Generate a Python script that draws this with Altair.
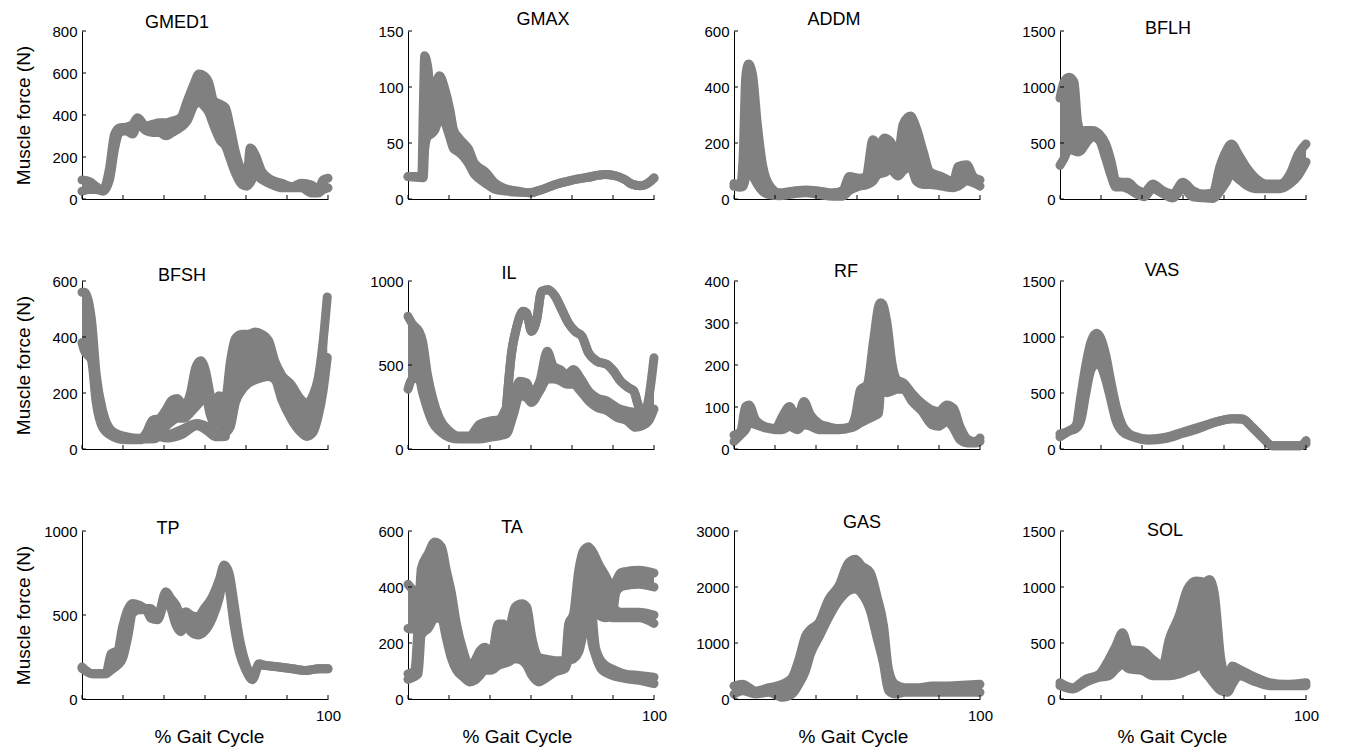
import altair as alt
import pandas as pd

FONT = "Liberation Sans"
GRAY = "#808080"

# ---------------- data: x = % gait cycle, HI / LO = upper / lower trace of each grey band (N)
GMED1_X = [0, 3.1, 5.8, 8.5, 11.2, 13.2, 15.2, 17.9, 20.6, 22.6, 26.0, 28.7, 31.4, 34.1, 36.7, 40.1, 42.8, 45.5, 47.5, 49.5,
           51.5, 53.6, 56.3, 58.3, 60.3, 62.3, 65.0, 67.0, 68.4, 70.4, 73.1, 77.1, 81.2, 85.2, 89.2, 93.3, 96.0, 98.0, 100]
GMED1_HI = [91, 83, 59, 43, 147, 307, 339, 342, 355, 387, 347, 355, 363, 363, 371, 387, 467, 547, 595, 587,
            555, 467, 451, 435, 339, 227, 131, 99, 243, 211, 131, 91, 75, 59, 75, 67, 43, 91, 99]
GMED1_LO = [37, 45, 45, 37, 93, 237, 317, 325, 309, 357, 325, 317, 317, 301, 317, 341, 373, 445, 461, 445,
            413, 349, 277, 253, 189, 125, 69, 61, 77, 117, 93, 69, 53, 53, 53, 29, 29, 45, 53]

GMAX_X = [0, 5.6, 6.2, 6.8, 8.0, 9.5, 11.0, 12.8, 15.0, 17.0, 18.5, 20.5, 22.5, 24.5, 27.0, 29.0, 31.5, 35.0, 40.0, 45.0,
          49.5, 54.5, 59.6, 66.4, 73.2, 80.0, 84.1, 88.2, 90.9, 94.3, 97.0, 100]
GMAX_HI = [20, 20, 80, 128, 118, 92, 100, 110, 98, 80, 62, 55, 50, 45, 32, 28, 24, 15, 9, 7,
           5.5, 8.5, 12.8, 16.7, 19.4, 21.8, 20.9, 17.3, 13.4, 11.9, 13.4, 18.8]
GMAX_LO = [20, 19, 19, 45, 56, 58, 62, 72, 68, 55, 45, 42, 38, 32, 22, 18, 14, 9, 7, 6,
           5.5, 8.5, 12.8, 16.7, 19.4, 21.8, 20.9, 17.3, 13.4, 11.9, 13.4, 18.8]

ADDM_X = [0, 2.7, 3.7, 4.8, 5.9, 7.5, 9.5, 11.6, 14.3, 18.4, 23.8, 29.3, 34.7, 40.1, 44.2, 46.9, 51.0, 53.7, 56.5, 58.5,
          61.2, 63.5, 66.7, 68.7, 71.7, 74.1, 76.9, 79.6, 84.4, 89.1, 91.2, 94.6, 97.3, 100]
ADDM_HI = [55, 50, 150, 440, 482, 446, 266, 122, 50, 22, 28, 32, 28, 22, 30, 80, 74, 80, 212, 182,
           218, 206, 158, 266, 296, 254, 170, 98, 80, 62, 116, 122, 80, 68]
ADDM_LO = [45, 42, 45, 80, 135, 88, 52, 28, 16, 12, 18, 22, 16, 10, 10, 30, 46, 50, 64, 88,
           94, 106, 82, 100, 118, 64, 52, 52, 46, 40, 46, 64, 58, 46]

BFLH_X = [0, 1.6, 3.7, 5.7, 7.1, 8.4, 10.5, 13.2, 15.9, 18.6, 20.7, 22.7, 25.4, 27.5, 30.9, 34.3, 37.7, 41.8, 45.9, 49.9,
          54.0, 58.1, 62.2, 64.9, 67.6, 69.7, 72.4, 75.8, 79.9, 83.9, 89.4, 93.5, 96.9, 100]
BFLH_HI = [900, 1044, 1088, 1044, 700, 610, 611, 611, 581, 492, 343, 164, 149, 149, 89, 60, 134, 75, 45, 149,
           75, 45, 55, 283, 432, 492, 403, 283, 179, 134, 134, 224, 403, 492]
BFLH_LO = [300, 361, 450, 430, 420, 430, 495, 555, 525, 361, 212, 107, 107, 92, 48, 20, 92, 48, 10, 92,
           20, 10, 5, 63, 152, 227, 182, 122, 92, 92, 92, 137, 212, 331]

BFSH_A_X = [0, 1.0, 3.8, 5.8, 8.5, 12.5, 17.9, 23.3, 26.0, 28.7, 31.4, 34.1, 36.7, 38.8, 41.5, 44.1, 46.2, 48.2, 50.2, 52.2,
            54.0, 55.6, 58.3, 60.3, 62.3, 65.0, 67.7, 70.4, 73.1, 75.8, 78.5, 81.2, 85.2, 88.6, 91.3, 93.9, 96.0, 98.0, 99.7]
BFSH_A_HI = [560, 560, 466, 264, 133, 62, 44, 38, 56, 103, 109, 140, 175, 180, 150, 200, 290, 315, 280, 190,
             130, 190, 180, 311, 394, 410, 410, 418, 410, 388, 311, 264, 228, 181, 163, 192, 252, 383, 543]
BFSH_A_LO = [380, 350, 318, 164, 75, 45, 33, 33, 36, 36, 45, 80, 100, 110, 110, 130, 150, 170, 190, 120,
             90, 110, 60, 80, 164, 210, 235, 247, 255, 259, 247, 176, 105, 63, 45, 59, 116, 208, 327]
BFSH_B_X = [31.4, 34.1, 40.1, 46.8, 50.9, 54.2, 58.3]
BFSH_B_HI = [50, 50, 68, 91, 80, 62, 62]
BFSH_B_LO = [45, 39, 50, 83, 65, 44, 45]

IL_A_X = [0, 2.0, 4.5, 5.9, 7.9, 10.0, 12.7, 16.8, 20.9, 25.0, 29.1, 33.2, 37.2, 40.0, 42.7, 45.4, 48.2, 50.2, 53.6, 56.6,
          59.1, 61.8, 64.5, 67.3, 70.0, 73.4, 76.8, 80.9, 85.0, 89.1, 92.5, 95.2, 97.9, 100]
IL_A_HI = [790, 740, 700, 641, 443, 305, 186, 107, 77, 77, 147, 166, 176, 246, 305, 404, 394, 335, 404, 582,
           493, 473, 444, 473, 424, 345, 305, 285, 246, 226, 216, 186, 305, 543]
IL_A_LO = [356, 420, 420, 337, 238, 158, 109, 69, 59, 59, 59, 69, 79, 89, 198, 317, 307, 277, 347, 416,
           416, 406, 386, 386, 347, 287, 248, 228, 188, 168, 129, 139, 168, 238]
IL_B_X = [40.0, 42.0, 44.1, 46.8, 48.2, 50.2, 52.3, 54.3, 57.0, 59.8, 62.5, 65.2, 67.9, 70.7, 73.4, 76.8, 80.9, 83.6,
          86.4, 89.8, 91.8, 93.5, 94.8]
IL_B_V = [246, 562, 721, 820, 810, 701, 770, 939, 948, 909, 830, 750, 701, 671, 572, 523, 503, 463,
          404, 364, 345, 265, 220]

RF_X = [0, 2.7, 4.7, 6.1, 8.8, 12.8, 16.9, 19.6, 22.6, 25.7, 28.4, 31.1, 34.5, 38.5, 42.6, 47.3, 49.3, 51.4, 54.1, 56.8,
        58.8, 59.6, 60.4, 62.2, 64.2, 66.2, 68.9, 72.3, 76.4, 80.4, 83.1, 86.5, 89.2, 91.9, 95.3, 98.0, 100]
RF_HI = [33, 41, 101, 105, 69, 53, 49, 77, 101, 69, 113, 81, 61, 53, 49, 53, 77, 141, 153, 261,
         340, 348, 345, 300, 205, 165, 157, 133, 109, 93, 89, 105, 97, 53, 22, 18, 26]
RF_LO = [18, 34, 46, 62, 58, 50, 46, 46, 54, 46, 58, 54, 46, 46, 46, 50, 54, 62, 70, 78,
         85, 138, 138, 134, 138, 142, 142, 114, 90, 58, 54, 66, 50, 22, 14, 14, 18]

VAS_X = [0, 3.8, 6.5, 8.5, 10.5, 12.6, 14.9, 16.6, 18.6, 20.7, 22.7, 25.4, 29.5, 36.2, 43.0, 49.7, 56.5, 63.2, 70.0,
         74.1, 78.1, 82.2, 86.2, 90.3, 94.3, 97.7, 100]
VAS_HI = [135, 165, 210, 479, 749, 958, 1033, 988, 838, 599, 389, 210, 120, 90, 105, 150, 195, 240, 270,
          270, 195, 105, 30, 28, 30, 30, 75]
VAS_LO = [108, 160, 183, 257, 497, 707, 760, 737, 617, 437, 257, 153, 108, 78, 93, 138, 183, 240, 270,
          265, 195, 105, 30, 28, 30, 30, 48]

TP_X = [0, 4.3, 9.7, 11.8, 14.5, 16.5, 18.5, 20.6, 23.3, 26.0, 28.0, 30.7, 34.1, 36.1, 38.2, 40.2, 42.2, 44.2, 47.0, 49.7,
        53.0, 55.8, 57.8, 59.8, 61.8, 63.9, 66.6, 69.3, 72.0, 74.7, 80.1, 85.5, 90.9, 96.3, 100]
TP_HI = [190, 150, 150, 269, 289, 429, 529, 569, 559, 539, 539, 489, 639, 599, 559, 499, 519, 499, 489, 539,
         609, 709, 798, 749, 569, 369, 210, 130, 210, 200, 190, 180, 170, 180, 180]
TP_LO = [182, 150, 150, 172, 202, 242, 361, 511, 531, 531, 481, 471, 591, 541, 441, 401, 441, 401, 381, 401,
         481, 601, 741, 661, 441, 281, 172, 115, 202, 200, 190, 180, 170, 180, 180]

TA_A_X = [0, 2.7, 4.1, 5.4, 8.2, 10.9, 13.6, 15.6, 17.7, 19.7, 22.4, 25.2, 27.2, 29.3, 31.3, 34.0, 36.7, 38.8, 40.8, 43.5,
          46.3, 48.3, 50.3, 53.1, 55.8, 59.9, 63.9, 65.3, 67.3, 69.4, 71.4, 73.4, 74.8, 76.2, 78.9, 83.0, 88.4, 93.9, 100]
TA_A_HI = [90, 100, 260, 465, 519, 561, 543, 459, 376, 268, 173, 113, 137, 173, 185, 161, 268, 268, 245, 328,
           340, 328, 221, 149, 143, 137, 137, 268, 304, 459, 531, 543, 320, 185, 131, 107, 89, 84, 78]
TA_A_LO = [70, 80, 90, 228, 252, 288, 288, 216, 144, 103, 79, 61, 67, 85, 103, 103, 120, 126, 132, 144,
           138, 120, 85, 61, 73, 97, 109, 138, 144, 168, 240, 300, 200, 156, 103, 85, 73, 67, 55]
TA_B_X = [0, 2.0, 4.1, 5.4]
TA_B_HI = [410, 390, 380, 420]
TA_B_LO = [252, 250, 280, 300]
TA_C_X = [73.4, 74.8, 77.6, 80.3, 83.0, 84.5, 86.4, 88.4, 93.9, 100]
TA_C_HI = [543, 530, 480, 440, 400, 420, 450, 455, 460, 450]
TA_C_LO = [450, 330, 300, 290, 300, 380, 400, 405, 410, 400]
TA_D_X = [83.0, 86.4, 93.9, 100]
TA_D_HI = [330, 310, 310, 300]
TA_D_LO = [290, 290, 290, 270]

GAS_X = [0, 3.4, 8.8, 14.2, 19.6, 23.6, 26.4, 29.1, 31.1, 34.5, 38.5, 42.6, 46.6, 49.3, 52.0, 55.4, 58.1, 60.8, 62.8,
         65.5, 69.6, 75.0, 80.4, 85.8, 92.6, 100]
GAS_HI = [232, 262, 143, 202, 262, 381, 708, 1125, 1244, 1363, 1780, 2018, 2434, 2494, 2375, 2256, 1839, 1304, 530,
          262, 202, 202, 232, 232, 244, 262]
GAS_LO = [89, 149, 89, 119, 30, 89, 268, 506, 804, 1101, 1458, 1756, 1934, 1964, 1875, 1577, 1101, 625, 149,
          89, 119, 119, 119, 119, 119, 119]

SOL_X = [0, 5.0, 10.4, 15.9, 19.9, 22.7, 25.4, 28.1, 33.5, 37.6, 41.7, 44.4, 48.4, 51.8, 55.2, 57.2, 58.6, 60.7, 62.7,
         65.4, 68.1, 70.1, 72.9, 78.3, 85.1, 91.9, 100]
SOL_HI = [146, 101, 176, 220, 354, 473, 592, 443, 429, 354, 295, 533, 741, 979, 1054, 1050, 1039, 1068, 949,
          354, 176, 295, 265, 205, 146, 131, 146]
SOL_LO = [119, 89, 149, 193, 208, 268, 312, 268, 253, 208, 208, 208, 223, 253, 283, 327, 253, 193, 134,
          74, 60, 134, 208, 164, 119, 119, 119]

PANELS = [
    ("GMED1", 800, [0, 200, 400, 600, 800], [(GMED1_X, GMED1_HI, GMED1_LO)]),
    ("GMAX", 150, [0, 50, 100, 150], [(GMAX_X, GMAX_HI, GMAX_LO)]),
    ("ADDM", 600, [0, 200, 400, 600], [(ADDM_X, ADDM_HI, ADDM_LO)]),
    ("BFLH", 1500, [0, 500, 1000, 1500], [(BFLH_X, BFLH_HI, BFLH_LO)]),
    ("BFSH", 600, [0, 200, 400, 600], [(BFSH_A_X, BFSH_A_HI, BFSH_A_LO), (BFSH_B_X, BFSH_B_HI, BFSH_B_LO)]),
    ("IL", 1000, [0, 500, 1000], [(IL_A_X, IL_A_HI, IL_A_LO), (IL_B_X, IL_B_V, IL_B_V)]),
    ("RF", 400, [0, 100, 200, 300, 400], [(RF_X, RF_HI, RF_LO)]),
    ("VAS", 1500, [0, 500, 1000, 1500], [(VAS_X, VAS_HI, VAS_LO)]),
    ("TP", 1000, [0, 500, 1000], [(TP_X, TP_HI, TP_LO)]),
    ("TA", 600, [0, 200, 400, 600], [(TA_A_X, TA_A_HI, TA_A_LO), (TA_B_X, TA_B_HI, TA_B_LO),
                                     (TA_C_X, TA_C_HI, TA_C_LO), (TA_D_X, TA_D_HI, TA_D_LO)]),
    ("GAS", 3000, [0, 1000, 2000, 3000], [(GAS_X, GAS_HI, GAS_LO)]),
    ("SOL", 1500, [0, 500, 1000, 1500], [(SOL_X, SOL_HI, SOL_LO)]),
]

X_TICKS = [0, 100 / 6, 200 / 6, 50, 400 / 6, 500 / 6, 100]

# ---------------- layout (pixels)
W, H = 246, 168
TITLE_DX = [-28, 12, -23, -15, -23, -22, -11, -21, -37, -19, 5, -18]
TITLE_DY = [16.5, 13.5, 13.5, 23, 19.5, 17.5, 15.5, 14.5, 23, 21.5, 16.5, 24.5]
XTITLE_X = [127, 109, 119, 112]


def build_panel(idx, name, ymax, yticks, strands):
    row, col = divmod(idx, 4)
    recs = []
    for s, (xs, hs, ls) in enumerate(strands):
        for x, h, l in zip(xs, hs, ls):
            recs.append({"x": x, "hi": h, "lo": l, "s": s})
    df = pd.DataFrame(recs)

    xscale = alt.Scale(domain=[0, 100], nice=False, zero=False)
    yscale = alt.Scale(domain=[0, ymax], nice=False)

    if row == 2:
        xaxis = alt.Axis(values=[100], format="d", labelFontSize=15, labelPadding=9, labelFlush=False,
                         ticks=False, grid=False, titleFontSize=19, titleFontWeight="normal",
                         titlePadding=4, titleX=XTITLE_X[col])
        xtitle = "% Gait Cycle"
    else:
        xaxis = alt.Axis(values=[], labels=False, ticks=False, grid=False)
        xtitle = None
    yaxis = alt.Axis(values=yticks, format="d", labelFontSize=15, labelPadding=5, ticks=False, grid=False,
                     minExtent=40, maxExtent=40, titleFontSize=19, titleFontWeight="normal", titlePadding=9)
    ytitle = "Muscle force (N)" if col == 0 else None

    X = alt.X("x:Q", scale=xscale, axis=xaxis, title=xtitle)
    Yhi = alt.Y("hi:Q", scale=yscale, axis=yaxis, title=ytitle)
    Ylo = alt.Y("lo:Q", scale=yscale, axis=yaxis, title=ytitle)

    base = alt.Chart(df)
    band = base.mark_area(color=GRAY, interpolate="monotone").encode(
        x=X, y=Yhi, y2=alt.Y2("lo:Q"), detail="s:N")
    line_kw = dict(color=GRAY, strokeWidth=9, strokeCap="round", strokeJoin="round", interpolate="monotone")
    top = base.mark_line(**line_kw).encode(x=X, y=Yhi, detail="s:N")
    bot = base.mark_line(**line_kw).encode(x=X, y=Ylo, detail="s:N")

    xt = alt.Chart(pd.DataFrame({"x": X_TICKS})).mark_rule(color="black", strokeWidth=1).encode(
        x=X, y=alt.value(H), y2=alt.value(H - 4))
    yt = alt.Chart(pd.DataFrame({"hi": yticks})).mark_rule(color="black", strokeWidth=1).encode(
        y=Yhi, x=alt.value(0), x2=alt.value(4))

    return alt.layer(band, top, bot, xt, yt).properties(
        width=W, height=H,
        title=alt.TitleParams(text=name, font=FONT, fontSize=18, fontWeight="normal", color="black",
                              anchor="middle", frame="group", baseline="middle", offset=0,
                              dx=TITLE_DX[idx], dy=TITLE_DY[idx]),
    )


panels = [build_panel(i, *p) for i, p in enumerate(PANELS)]

chart = alt.concat(*panels, columns=4, spacing={"row": 82, "column": 80}, bounds="flush").properties(
    padding={"left": 14, "top": 10, "right": 5, "bottom": 5}
).configure_view(strokeWidth=0).configure_axis(
    labelFont=FONT, titleFont=FONT, labelColor="black", titleColor="black",
    domainColor="black", domainWidth=1,
)

chart.save("out.html", embed_options={"renderer": "svg", "actions": False})
